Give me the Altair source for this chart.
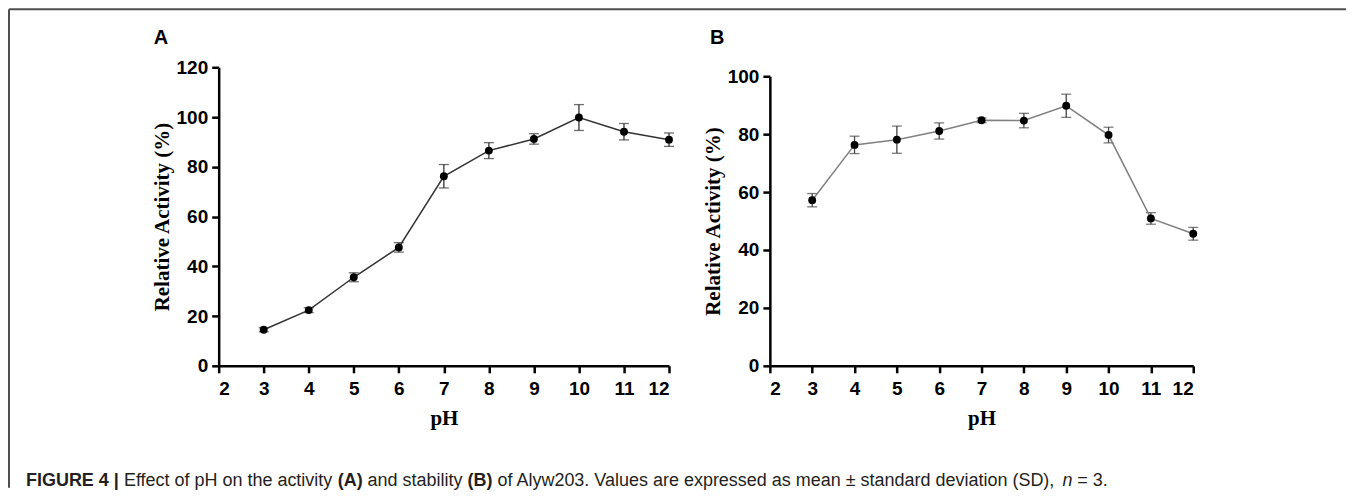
import altair as alt
import pandas as pd

# ---------------- data ----------------
ph = [3, 4, 5, 6, 7, 8, 9, 10, 11, 12]
activity = [14.5, 22.4, 35.6, 47.6, 76.2, 86.5, 91.2, 99.8, 94.1, 90.9]
activity_sd = [0.8, 1.0, 1.8, 1.9, 4.7, 3.2, 2.1, 5.2, 3.3, 2.7]
stability = [57.2, 76.3, 78.1, 81.1, 84.8, 84.7, 89.8, 79.7, 50.9, 45.6]
stability_sd = [2.3, 3.0, 4.7, 2.8, 0.8, 2.5, 4.0, 2.7, 2.0, 2.2]
x_ticks = [2, 3, 4, 5, 6, 7, 8, 9, 10, 11, 12]
a_y_ticks = [0, 20, 40, 60, 80, 100, 120]
b_y_ticks = [0, 20, 40, 60, 80, 100]

caption_segments = [
    ("FIGURE 4 |", "bold"),
    (" Effect of pH on the activity ", "normal"),
    ("(A)", "bold"),
    (" and stability ", "normal"),
    ("(B)", "bold"),
    (" of Alyw203. Values are expressed as mean \u00b1 standard deviation (SD), ", "normal"),
    ("n", "italic"),
    (" = 3.", "normal"),
]

SANS = "Liberation Sans, Arial, Helvetica, sans-serif"
SERIF = "Liberation Serif, Times New Roman, serif"

# Arial / Liberation Sans advance widths (1/1000 em) for caption layout
REG = {" ": 278, "(": 333, ")": 333, ",": 278, ".": 278, "=": 584, "\u00b1": 584,
       "A": 667, "B": 667, "D": 722, "E": 667, "H": 722, "S": 667, "V": 667,
       "a": 556, "b": 556, "c": 500, "d": 556, "e": 556, "f": 278, "h": 556,
       "i": 222, "l": 222, "m": 833, "n": 556, "o": 556, "p": 556, "r": 333,
       "s": 500, "t": 278, "u": 556, "v": 500, "w": 722, "x": 500, "y": 500}
BOLD = {" ": 278, "(": 333, ")": 333, "A": 722, "B": 722, "E": 667, "F": 611,
        "G": 778, "I": 278, "R": 722, "U": 722, "|": 280}


def seg_width(s, style, fs):
    tab = BOLD if style == "bold" else REG
    return sum(tab.get(ch, 556) for ch in s) * fs / 1000.0


W = 451
H = 299
CAP_FS = 18
ORIGIN_A_X = 218  # page x of panel A plot origin

x_scale = alt.Scale(domain=[2, 12], nice=False, zero=False)


def panel(values, sds, y_scale, y_ticks, line_color, bar_color, width, extra_layers):
    df = pd.DataFrame({
        "pH": ph,
        "v": values,
        "lo": [v - s for v, s in zip(values, sds)],
        "hi": [v + s for v, s in zip(values, sds)],
    })
    X = alt.X("pH:Q", scale=x_scale,
              axis=alt.Axis(values=x_ticks, title="pH", format="d"))
    yaxis = alt.Axis(values=y_ticks, title="Relative Activity (%)", format="d")
    base = alt.Chart(df)
    bars = base.mark_rule(color=bar_color, strokeWidth=1.3).encode(
        x=X, y=alt.Y("lo:Q", scale=y_scale, axis=yaxis), y2="hi:Q")
    cap_lo = base.mark_tick(orient="horizontal", size=10, thickness=1.3,
                            color=bar_color).encode(
        x=X, y=alt.Y("lo:Q", scale=y_scale, axis=yaxis))
    cap_hi = base.mark_tick(orient="horizontal", size=10, thickness=1.3,
                            color=bar_color).encode(
        x=X, y=alt.Y("hi:Q", scale=y_scale, axis=yaxis))
    line = base.mark_line(color=line_color, strokeWidth=1.5).encode(
        x=X, y=alt.Y("v:Q", scale=y_scale, axis=yaxis))
    pts = base.mark_circle(size=62, color="black", opacity=1).encode(
        x=X, y=alt.Y("v:Q", scale=y_scale, axis=yaxis))
    return alt.layer(bars, cap_lo, cap_hi, line, pts, *extra_layers).properties(
        width=width, height=H)


one = pd.DataFrame({"k": [0]})


def label(txt, x, y, fs=20, weight="bold", style="normal", font=SANS, color="black"):
    return alt.Chart(one).mark_text(
        text=txt, align="left", baseline="alphabetic", font=font, fontSize=fs,
        fontWeight=weight, fontStyle=style, color=color
    ).encode(x=alt.value(x), y=alt.value(y))


# decorations of panel A: frame lines, panel letter, caption
extras_a = []
frame_color = "#505050"
extras_a.append(alt.Chart(one).mark_rule(color=frame_color, strokeWidth=2).encode(
    x=alt.value(-210), x2=alt.value(1129), y=alt.value(-58)))
extras_a.append(alt.Chart(one).mark_rule(color=frame_color, strokeWidth=2).encode(
    x=alt.value(-210), y=alt.value(-58), y2=alt.value(421)))
extras_a.append(label("A", -65, -23))

cx = 25.0
cap_y = 419
for txt, st in caption_segments:
    lead = len(txt) - len(txt.lstrip(" "))
    core = txt.strip(" ")
    x0 = cx + seg_width(" " * lead, st, CAP_FS)
    extras_a.append(label(core, x0 - ORIGIN_A_X, cap_y, fs=CAP_FS,
                          weight="bold" if st == "bold" else "normal",
                          style="italic" if st == "italic" else "normal",
                          color="#231f20"))
    cx += seg_width(txt, st, CAP_FS)

extras_b = [label("B", -60, -23)]

panel_a = panel(activity, activity_sd,
                alt.Scale(domain=[0, 120], nice=False, zero=False),
                a_y_ticks, "#333333", "#333333", W, extras_a)
panel_b = panel(stability, stability_sd,
                alt.Scale(domain=[0, 100], range=[299, 9], nice=False, zero=False),
                b_y_ticks, "#808080", "#444444", 424, extras_b)

chart = alt.hconcat(panel_a, panel_b, spacing=101, bounds="flush").properties(
    padding={"left": 0, "top": 0, "right": 0, "bottom": 0}
).configure(background="white").configure_view(stroke=None, strokeWidth=0).configure_axis(
    grid=False,
    domainColor="black", domainWidth=2.5,
    tickColor="black", tickWidth=2.5, tickSize=7,
    labelFont=SANS, labelFontWeight="bold", labelFontSize=19, labelColor="black",
    titleFont=SERIF, titleFontWeight="bold", titleFontSize=21, titleColor="black",
).configure_axisX(labelPadding=7, titlePadding=9).configure_axisY(
    labelPadding=4, titlePadding=4)

chart.save("out.html", embed_options={"renderer": "svg", "actions": False})
